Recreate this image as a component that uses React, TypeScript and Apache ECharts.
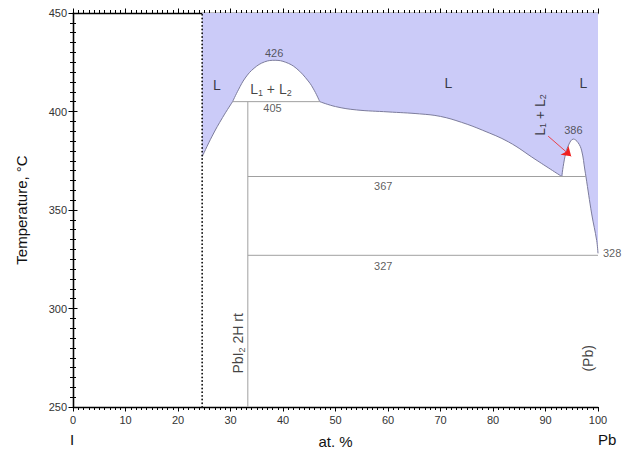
import React, { useEffect, useRef } from "react";
import * as echarts from "echarts";

// Liquidus curve segments (at.% Pb, °C)
const liquidusLeft = [[24.6, 377], [26.5, 387.5], [28.5, 397], [30.4, 405]];
const dome1 = [[30.4, 405], [31.5, 411], [32.8, 417], [34.5, 422], [36.5, 425.2], [38.5, 426], [40.5, 425], [42.5, 422], [44.8, 415.5], [46, 410.5], [47, 405]];
const liquidusMid = [[47, 405], [50, 402.5], [54, 400.8], [60, 399.8], [66, 398.8], [70, 397.5], [74, 394.5], [78, 390.5], [83, 384.5], [88, 375.8], [93.1, 367]];
const dome2 = [[93.1, 367], [93.7, 377], [94.4, 383], [95.3, 386], [96.2, 384.2], [96.9, 380], [97.5, 370.3], [97.7, 367], [98.8, 348], [99.75, 334.5], [100, 328]];
const segments = [liquidusLeft, dome1, liquidusMid, dome2];

// Invariant lines
const monotectic405 = [[30.4, 405], [47, 405]];
const eutectic367 = [[33.3, 367], [97.7, 367]];
const eutectic327 = [[33.3, 327], [100, 327]];
const pbI2Line = [[33.3, 250], [33.3, 405]];
const dottedLine = [[24.6, 250], [24.6, 450]];

// Arrow
const arrowCoords = [[90.5, 387.5], [94.9, 377.3]];

// Axis
const xRange = [0, 100];
const yRange = [250, 450];

// Labels: [x, y, text, kind]
const textLabels: [number, number, string, string][] = [
  [27.4, 413.5, "L", "big"],
  [37.7, 411.3, "L{s|1} + L{s|2}", "big"],
  [38.3, 429.8, "426", "num"],
  [38.0, 401.8, "405", "num"],
  [71.5, 414.3, "L", "big"],
  [97.2, 414.3, "L", "big"],
  [95.3, 390.6, "386", "num"],
  [59.1, 362.3, "367", "num"],
  [59.1, 321.7, "327", "num"],
];
const rotatedLabels: [number, number, string][] = [
  [88.95, 398.2, "L{s|1} + L{s|2}"],
  [31.5, 282.3, "PbI{s|2} 2H rt"],
  [98.15, 274.7, "(Pb)"],
];
const edgeLabel: [number, number, string] = [100, 328, "328"];

const FONT = "Liberation Sans, Arial, sans-serif";
const FILL = "#cbcbf8";

export default function App() {
  const ref = useRef<HTMLDivElement>(null);
  useEffect(() => {
    document.body.style.margin = "0";
    if (!ref.current) return;
    const chart = echarts.init(ref.current, undefined, { renderer: "svg" });

    const axisCommon = {
      type: "value" as const,
      axisLine: { show: true, lineStyle: { color: "#000", width: 1.3 } },
      axisTick: { show: true, inside: false, length: 4.5, lineStyle: { color: "#000", width: 1 } },
      minorTick: { show: true, splitNumber: 10, length: 3, lineStyle: { color: "#000", width: 1 } },
      splitLine: { show: false },
      minorSplitLine: { show: false },
    };

    const bigRich = {
      s: { fontSize: 9, fontFamily: FONT, color: "#111", padding: [7, 0, 0, 0] },
    };

    const labelSeriesData = textLabels.map(([x, y, t, kind]) => ({
      value: [x, y],
      label: {
        show: true,
        position: "inside",
        formatter: t,
        fontFamily: FONT,
        fontSize: kind === "big" ? 14 : 11,
        color: kind === "big" ? "#111" : "#333",
        rich: bigRich,
      },
    }));
    const rotData = rotatedLabels.map(([x, y, t]) => ({
      value: [x, y],
      label: {
        show: true,
        position: "inside",
        rotate: 90,
        formatter: t,
        fontFamily: FONT,
        fontSize: 14,
        color: "#111",
        rich: bigRich,
      },
    }));

    const fillSeries = (data: number[][]) => ({
      type: "line",
      data,
      symbol: "none",
      smooth: 0.4,
      lineStyle: { width: 0, opacity: 0 },
      areaStyle: { color: FILL, opacity: 1, origin: "end" },
      z: 1,
      silent: true,
    });
    const strokeSeries = (data: number[][]) => ({
      type: "line",
      data,
      symbol: "none",
      smooth: 0.4,
      lineStyle: { color: "#7c7c9c", width: 1 },
      z: 3,
      silent: true,
    });
    // cover the anti-aliasing seams where two filled segments meet
    const seamSeries = segments.slice(1).map((seg) => ({
      type: "line",
      data: [[seg[0][0], seg[0][1]], [seg[0][0], yRange[1]]],
      symbol: "none",
      lineStyle: { color: FILL, width: 1.5 },
      z: 2,
      silent: true,
    }));
    const plainLine = (data: number[][]) => ({
      type: "line",
      data,
      symbol: "none",
      lineStyle: { color: "#a0a0a0", width: 1 },
      z: 3,
      silent: true,
    });

    chart.setOption({
      animation: false,
      backgroundColor: "#fff",
      textStyle: { fontFamily: FONT },
      grid: { left: 73, right: 33, top: 13, bottom: 43, containLabel: false, outerBoundsMode: "none" },
      xAxis: [
        {
          ...axisCommon,
          position: "bottom",
          min: xRange[0],
          max: xRange[1],
          interval: 10,
          axisLabel: { show: true, fontSize: 11, color: "#333", margin: 7, fontFamily: FONT },
          name: "at. %",
          nameLocation: "middle",
          nameGap: 27,
          nameTextStyle: { fontSize: 15, color: "#111", fontFamily: FONT },
        },
        {
          ...axisCommon,
          position: "top",
          min: xRange[0],
          max: xRange[1],
          interval: 10,
          axisLabel: { show: false },
        },
      ],
      yAxis: [
        {
          ...axisCommon,
          position: "left",
          min: yRange[0],
          max: yRange[1],
          interval: 50,
          axisLabel: { show: true, fontSize: 11, color: "#333", margin: 6, fontFamily: FONT },
          name: "Temperature, °C",
          nameLocation: "middle",
          nameGap: 44,
          nameTextStyle: { fontSize: 15, color: "#111", fontFamily: FONT },
        },
        {
          ...axisCommon,
          position: "right",
          min: yRange[0],
          max: yRange[1],
          interval: 50,
          axisLabel: { show: false },
        },
      ],
      graphic: [
        { type: "text", left: 70, top: 432, style: { text: "I", fontSize: 15, fill: "#111", fontFamily: FONT } },
        { type: "text", left: 598, top: 432, style: { text: "Pb", fontSize: 15, fill: "#111", fontFamily: FONT } },
      ],
      series: [
        ...segments.map(fillSeries),
        ...seamSeries,
        ...segments.map(strokeSeries),
        plainLine(monotectic405),
        plainLine(eutectic367),
        plainLine(eutectic327),
        plainLine(pbI2Line),
        {
          type: "line",
          data: dottedLine,
          symbol: "none",
          lineStyle: { color: "#111", width: 1.8, type: [0.1, 3.6], cap: "round" },
          z: 4,
          silent: true,
        },
        {
          type: "lines",
          coordinateSystem: "cartesian2d",
          data: [{ coords: arrowCoords }],
          symbol: ["none", "arrow"],
          symbolSize: 9,
          lineStyle: { color: "#f02020", width: 0.8, opacity: 1 },
          z: 5,
          silent: true,
        },
        {
          type: "scatter",
          data: labelSeriesData,
          symbolSize: 0,
          z: 6,
          silent: true,
          clip: false,
        },
        {
          type: "scatter",
          data: rotData,
          symbolSize: 0,
          z: 6,
          silent: true,
          clip: false,
        },
        {
          type: "scatter",
          data: [
            {
              value: [edgeLabel[0], edgeLabel[1]],
              label: {
                show: true,
                position: "right",
                distance: 5,
                formatter: edgeLabel[2],
                fontSize: 11,
                color: "#333",
                fontFamily: FONT,
              },
            },
          ],
          symbolSize: 0,
          z: 6,
          silent: true,
          clip: false,
        },
      ],
    });
    return () => chart.dispose();
  }, []);
  return <div ref={ref} style={{ width: 631, height: 450 }} />;
}
